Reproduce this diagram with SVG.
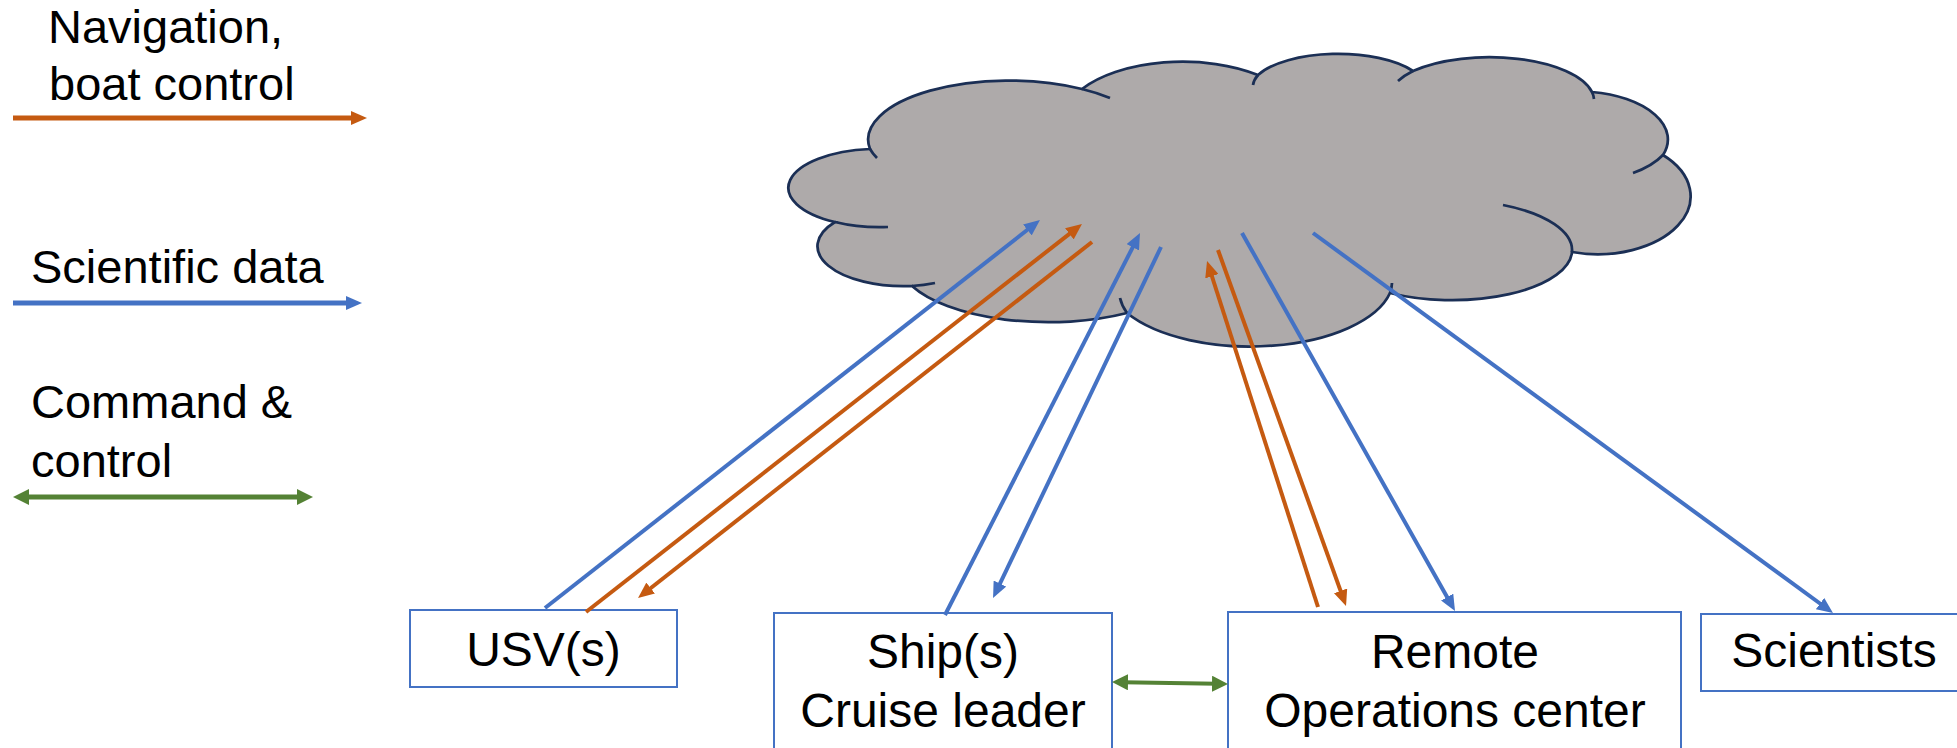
<svg xmlns="http://www.w3.org/2000/svg" width="1957" height="748" viewBox="0 0 1957 748">
<style>
text{font-family:"Liberation Sans",Arial,sans-serif;font-size:47px;fill:#000}
.lbl{font-size:48px}
.box{fill:#fff;stroke:#4472C4;stroke-width:2}
.cloud{fill:#AEAAAA;stroke:#1B2F55;stroke-width:2.75}
.inner{fill:none;stroke:#1B2F55;stroke-width:2.75}
.b{stroke:#4472C4;stroke-width:4;fill:none}
.o{stroke:#C55A11;stroke-width:4;fill:none}
.g{stroke:#548235;stroke-width:4;fill:none}
</style>
<defs>
<marker id="ab" markerUnits="userSpaceOnUse" markerWidth="16" markerHeight="14" refX="5" refY="7" orient="auto"><path d="M0,0 L16,7 L0,14 z" fill="#4472C4"/></marker>
<marker id="ao" markerUnits="userSpaceOnUse" markerWidth="16" markerHeight="14" refX="5" refY="7" orient="auto"><path d="M0,0 L16,7 L0,14 z" fill="#C55A11"/></marker>
<marker id="ag" markerUnits="userSpaceOnUse" markerWidth="16" markerHeight="16" refX="5" refY="8" orient="auto-start-reverse"><path d="M0,0 L16,8 L0,16 z" fill="#548235"/></marker>
</defs>

<g id="legend">
<text x="48" y="43">Navigation,</text>
<text x="49" y="100">boat control</text>
<line x1="13" y1="118" x2="356" y2="118" class="o" style="stroke-width:5" marker-end="url(#ao)"/>
<text x="31" y="283">Scientific data</text>
<line x1="13" y1="303" x2="351" y2="303" class="b" style="stroke-width:5" marker-end="url(#ab)"/>
<text x="31" y="418">Command &amp;</text>
<text x="31" y="477">control</text>
<line x1="24" y1="497" x2="302" y2="497" class="g" style="stroke-width:5" marker-start="url(#ag)" marker-end="url(#ag)"/>
</g>

<g id="cloud">
<path class="cloud" d="M870,149 A141,59 0 0 1 1082,89 A120,60 0 0 1 1258,75 A88,36 0 0 1 1413,71 A105,44 0 0 1 1592,92 A90,48 0 0 1 1663,155 A93,58 0 0 1 1572,252 A120,50 0 0 1 1390,293 A143,68 0 0 1 1127,313 A150,62 0 0 1 912,286 A86,40 0 0 1 835,222 A90,39 0 0 1 870,149 Z"/>
<path class="inner" d="M835,222 A90,39 0 0 0 888,227 M870,149 A141,59 0 0 0 877,158 M1082,89 A141,59 0 0 1 1110,98 M1258,75 A88,36 0 0 0 1253,85 M1413,71 A105,44 0 0 0 1398,81 M1592,92 A105,44 0 0 1 1594,99 M1663,155 A90,48 0 0 1 1633,173 M1572,252 A120,50 0 0 0 1503,205 M1390,293 A143,68 0 0 0 1392,283 M1127,313 A143,68 0 0 1 1120,298 M912,286 A86,40 0 0 0 935,283"/>
</g>

<g id="usv">
<rect class="box" x="410" y="610" width="267" height="77"/>
<text class="lbl" x="543.5" y="666" text-anchor="middle">USV(s)</text>
</g>
<g id="ship">
<rect class="box" x="774" y="613" width="338" height="150"/>
<text class="lbl" x="943" y="668" text-anchor="middle">Ship(s)</text>
<text class="lbl" x="943" y="727" text-anchor="middle">Cruise leader</text>
</g>
<g id="remote">
<rect class="box" x="1228" y="612" width="453" height="150"/>
<text class="lbl" x="1455" y="668" text-anchor="middle">Remote</text>
<text class="lbl" x="1455" y="727" text-anchor="middle">Operations center</text>
</g>
<g id="scientists">
<rect class="box" x="1701" y="614" width="270" height="77"/>
<text class="lbl" x="1834" y="667" text-anchor="middle">Scientists</text>
</g>

<g id="connectors">
<line class="b" x1="545" y1="608" x2="1031.3" y2="226.8" marker-end="url(#ab)"/>
<line class="o" x1="586" y1="612" x2="1073.3" y2="230.8" marker-end="url(#ao)"/>
<line class="o" x1="1092" y1="242" x2="646.7" y2="591.2" marker-end="url(#ao)"/>
<line class="b" x1="945" y1="615" x2="1135" y2="242.8" marker-end="url(#ab)"/>
<line class="b" x1="1161" y1="247" x2="997.8" y2="588.1" marker-end="url(#ab)"/>
<line class="o" x1="1318" y1="607" x2="1210.4" y2="271.5" marker-end="url(#ao)"/>
<line class="o" x1="1218" y1="250" x2="1342.3" y2="595.6" marker-end="url(#ao)"/>
<line class="b" x1="1242" y1="233" x2="1449.6" y2="601.4" marker-end="url(#ab)"/>
<line class="b" x1="1313" y1="233" x2="1824.1" y2="606.5" marker-end="url(#ab)"/>
<line class="g" x1="1123" y1="682.2" x2="1217" y2="683.8" marker-start="url(#ag)" marker-end="url(#ag)"/>
</g>
</svg>
